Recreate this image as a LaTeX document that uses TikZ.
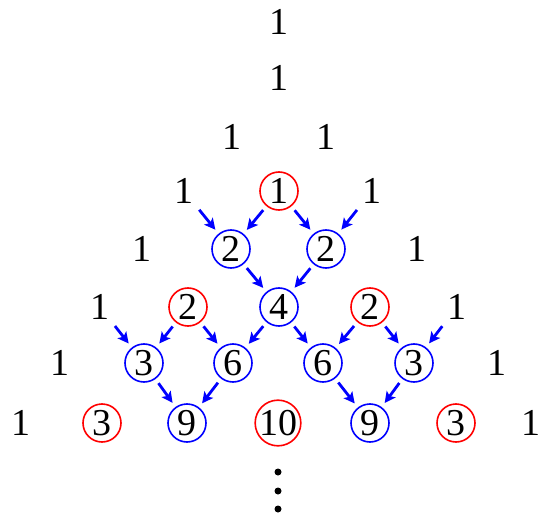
\documentclass[tikz,border=0pt]{standalone}
\usepackage{fontspec}
\setmainfont{Liberation Serif}
\usetikzlibrary{arrows.meta}

\tikzset{
  num/.style={circle, minimum size=38pt, inner sep=0pt, font=\fontsize{38}{38}\selectfont},
  hot/.style={num, draw=red, line width=1.6pt},
  sum/.style={num, draw=blue, line width=1.6pt},
  feed/.style={-{Stealth[length=11pt, width=11pt, inset=2.5pt]}, blue,
               line width=2.8pt, shorten <=5pt, shorten >=5pt}
}

\begin{document}
\begin{tikzpicture}[x=1pt, y=-1pt]
  \useasboundingbox (0,0) rectangle (541,516);
  % top rows
  \node[num] (n01) at (279,22) {1};
  \node[num] (n11) at (279,78) {1};
  \foreach \x [count=\c] in {232,326}
    \node[num] (n2\c) at (\x,137) {1};
  % rows with circled entries
  \foreach \x/\v/\s [count=\c] in {184/1/num, 279/1/hot, 372/1/num}
    \node[\s] (n3\c) at (\x,191) {\v};
  \foreach \x/\v/\s [count=\c] in {142/1/num, 231/2/sum, 326/2/sum, 417/1/num}
    \node[\s] (n4\c) at (\x,249) {\v};
  \foreach \x/\v/\s [count=\c] in {100/1/num, 188/2/hot, 279/4/sum, 370/2/hot, 457/1/num}
    \node[\s] (n5\c) at (\x,307) {\v};
  \foreach \x/\v/\s [count=\c] in {60/1/num, 144/3/sum, 233/6/sum, 323/6/sum, 414/3/sum, 497/1/num}
    \node[\s] (n6\c) at (\x,363) {\v};
  \foreach \x/\v/\s [count=\c] in {21/1/num, 102/3/hot, 187/9/sum, 278/10/hot, 370/9/sum, 456/3/hot, 531/1/num}
    \node[\s] (n7\c) at (\x,423) {\v};
  % arrows into the blue entries
  \foreach \a/\b in {n31/n42, n32/n42, n32/n43, n33/n43, n42/n53, n43/n53,
                     n51/n62, n52/n62, n52/n63, n53/n63, n53/n64, n54/n64,
                     n54/n65, n55/n65, n62/n73, n63/n73, n64/n75, n65/n75}
    \draw[feed] (\a) -- (\b);
  % continuation dots
  \foreach \y in {472,491,509}
    \fill (278,\y) circle (3.5pt);
\end{tikzpicture}
\end{document}
